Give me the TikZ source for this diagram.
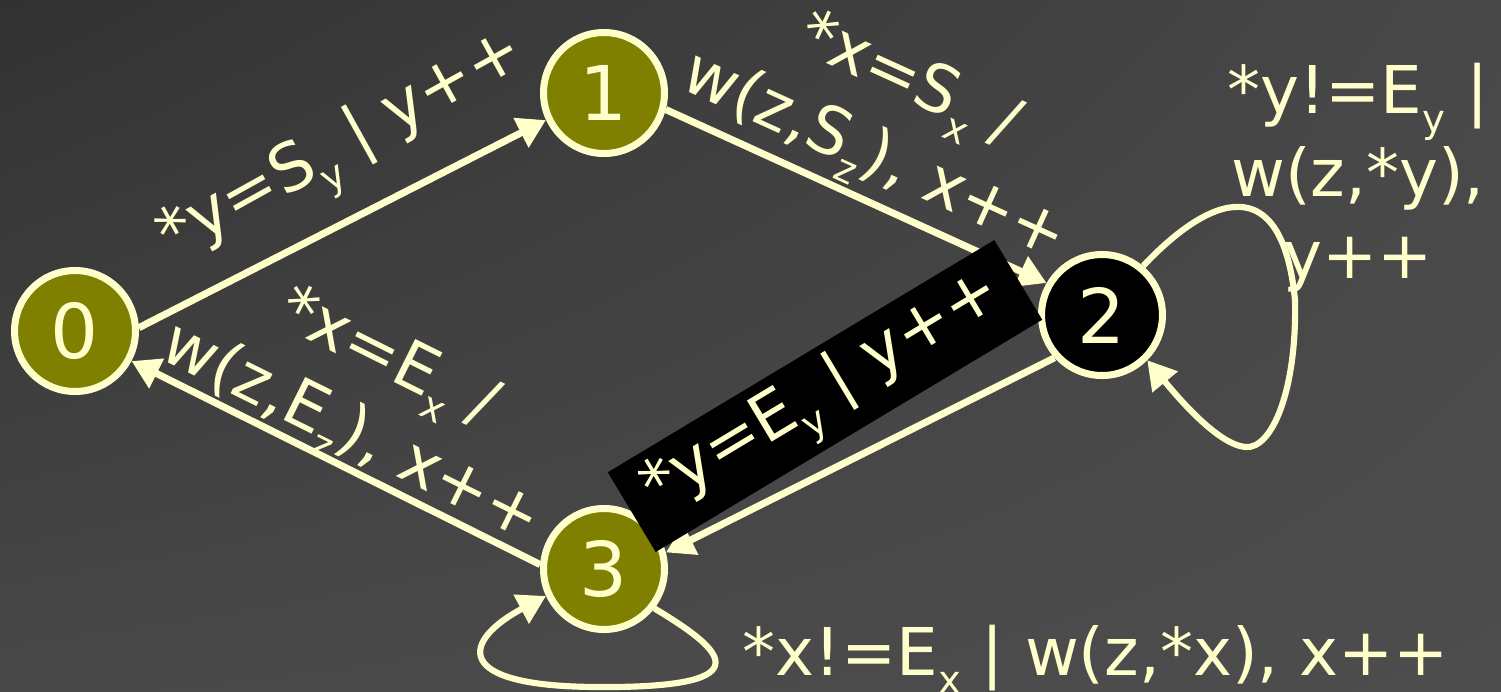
\documentclass[tikz,border=0pt]{standalone}
\usepackage{fontspec}
\setmainfont{DejaVu Sans}
\usetikzlibrary{arrows.meta,positioning,shadings}
\definecolor{mOlive}{RGB}{128,128,0}
\definecolor{mCream}{RGB}{255,255,204}
\definecolor{mBgDark}{RGB}{50,50,50}
\definecolor{mBgMid}{RGB}{72,72,72}
\definecolor{mBgLight}{RGB}{77,77,77}
\newcommand{\idx}[1]{\raisebox{-0.28em}{\fontsize{22}{22}\selectfont #1}}

\begin{document}
\begin{tikzpicture}[x=0.02cm, y=-0.02cm,
    state/.style={circle, draw=mCream, line width=4pt, fill=mOlive, text=mCream,
      minimum size=2.42cm, inner sep=0pt, font=\fontsize{43}{43}\selectfont},
    trans/.style={draw=mCream, line width=4pt, -{Triangle[length=16pt,width=18pt]}},
    loopy/.style={trans, line width=3.5pt},
    lbl/.style={text=mCream, font=\fontsize{37.5}{47}\selectfont, inner sep=0pt}
  ]
  % background
  \useasboundingbox (0,0) rectangle (1501,691);
  \shade[upper left=mBgDark, upper right=mBgMid, lower left=mBgMid, lower right=mBgLight]
    (0,0) rectangle (1501,691);

  % states
  \node[state] (n0) at (75,331) {0};
  \node[state] (n1) at (604,93) {1};
  \node[state, fill=black] (n2) at (1102,315) {2};
  \node[state] (n3) at (604,569) {3};

  % 0 -> 1
  \draw[trans] (n0.3) -- node[lbl, sloped, pos=0.58, rotate=2, above=13pt]
    {*y=S\idx{y} | y++} (n1.205);
  % 1 -> 2
  \draw[trans] (n1.-15) -- node[lbl, sloped, above=2pt, align=center]
    {*x=S\idx{x} /\\w(z,S\idx{z}), x++} (n2.150);
  % 3 -> 0
  \draw[trans] (n3.176) -- node[lbl, sloped, above=-4pt, align=center]
    {*x=E\idx{x} /\\w(z,E\idx{z}), x++} (n0.-28);
  % 2 -> 3
  \draw[trans] (n2.222) -- (n3.15);
  \node[lbl, fill=black, rotate=31, minimum width=9.02cm, minimum height=1.86cm]
    (l23) at (825,396) {*y=E\idx{y} | y++};

  % loop on 2
  \draw[loopy] (n2.50) .. controls (1210,195) and (1282,168) .. (1295,300)
    .. controls (1297,390) and (1272,450) .. (1245,447)
    .. controls (1218,444) and (1180,400) .. (n2.-45);
  \node[lbl, align=center] (l22) at (1358,178) {*y!=E\idx{y} |\\w(z,*y),\\y++};

  % loop on 3
  \draw[loopy] (n3.-38) .. controls (715,645) and (775,688) .. (600,687)
    .. controls (448,687) and (463,640) .. (n3.205);
  \node[lbl, anchor=base] (l33) at (1096,675) {*x!=E\idx{x} | w(z,*x), x++};
\end{tikzpicture}
\end{document}
